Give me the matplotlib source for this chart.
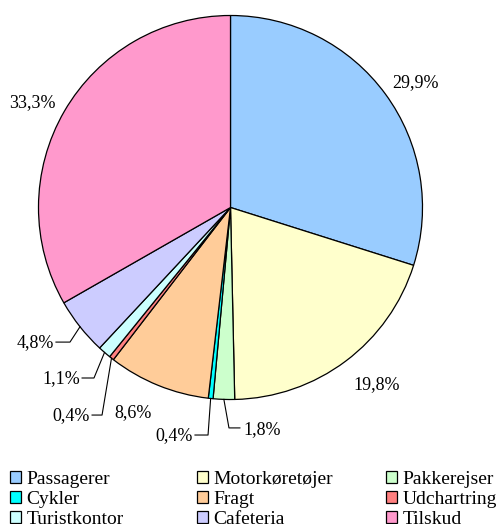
import numpy as np
import matplotlib
matplotlib.use("Agg")
import matplotlib.pyplot as plt

plt.rcParams['font.family'] = ['Liberation Serif', 'DejaVu Serif']

categories = ['Passagerer', 'Motorkøretøjer', 'Pakkerejser', 'Cykler', 'Fragt',
              'Udchartring', 'Turistkontor', 'Cafeteria', 'Tilskud']
values = [29.9, 19.8, 1.8, 0.4, 8.6, 0.4, 1.1, 4.8, 33.3]
labels = ['29,9%', '19,8%', '1,8%', '0,4%', '8,6%', '0,4%', '1,1%', '4,8%', '33,3%']
colors = ['#99CCFF', '#FFFFCC', '#CCFFCC', '#00FFFF', '#FFCC99',
          '#FF8080', '#CCFFFF', '#CCCCFF', '#FF99CC']

# label layout: (text x, text y, ha) and optional elbow point for leader lines
label_pos = [(0.963, 0.648, 'center'), (0.763, -0.924, 'center'),
             (0.065, -1.158, 'left'), (-0.195, -1.19, 'right'),
             (-0.508, -1.070, 'center'), (-0.732, -1.086, 'right'),
             (-0.784, -0.893, 'right'), (-0.92, -0.706, 'right'),
             (-1.034, 0.544, 'center')]
elbows = [None, None, (-0.008, -1.148), (-0.117, -1.185), None,
          (-0.669, -1.081), (-0.711, -0.888), (-0.836, -0.701), None]
ends = [None, None, 0.049, -0.185, None, -0.721, -0.773, -0.909, None]

fig = plt.figure(figsize=(4.96, 5.24), dpi=100)
ax = fig.add_axes([0, 0, 1, 1])
ax.axis('off')

wedges, _ = ax.pie(values, colors=colors, startangle=90, counterclock=False,
                   radius=1.0, center=(0, 0), normalize=True,
                   wedgeprops=dict(edgecolor='black', linewidth=0.9))
ax.set_xlim(-1.2005, 1.3828)
ax.set_ylim(-1.6484, 1.0807)
ax.set_aspect('equal')

for w, lab, pos, el, en in zip(wedges, labels, label_pos, elbows, ends):
    mid = np.deg2rad((w.theta1 + w.theta2) / 2)
    if el is not None:
        sx, sy = np.cos(mid), np.sin(mid)
        ax.plot([sx, el[0], en], [sy, el[1], el[1]], color='black', lw=0.8)
    ax.text(pos[0], pos[1], lab, ha=pos[2], va='center', fontsize=13)

# legend in three columns, filled row by row
col_x = [10, 197, 386]
for c in range(3):
    idx = [c, c + 3, c + 6]
    leg = fig.legend([wedges[i] for i in idx], [categories[i] for i in idx],
                     loc='upper left',
                     bbox_to_anchor=(col_x[c] / 496, 1 - 471 / 524),
                     frameon=False, fontsize=14, labelspacing=0.15,
                     borderpad=0, borderaxespad=0, handlelength=0.57,
                     handleheight=0.52, handletextpad=0.28)

fig.savefig('out.png', dpi=100)
